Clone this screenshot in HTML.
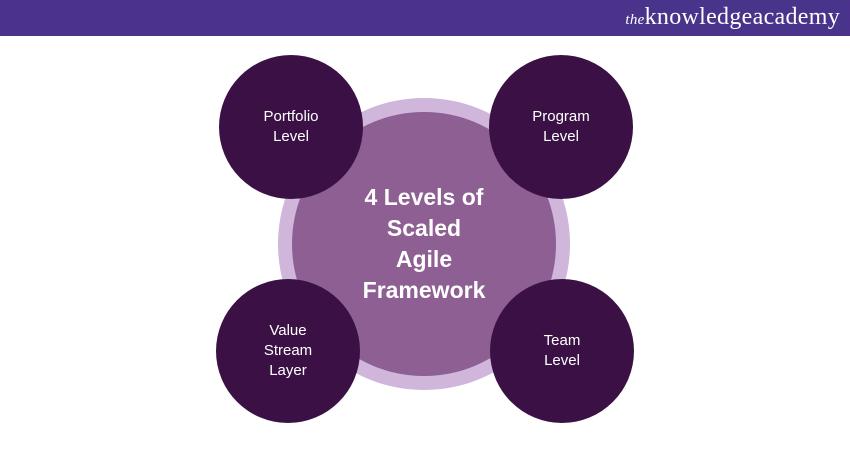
<!DOCTYPE html>
<html><head><style>
body{margin:0;width:850px;height:450px;background:#fff;overflow:hidden;font-family:"Liberation Sans",sans-serif}
.hdr{position:absolute;left:0;top:0;width:850px;height:36px;background:#4a338a}
.logo{position:absolute;right:10px;top:4px;color:#fff;font-family:"Liberation Serif",serif;font-size:24px;letter-spacing:0.3px}
.logo i{font-size:15px}
.c{position:absolute;border-radius:50%;display:flex;align-items:center;justify-content:center;text-align:center;color:#fff}
.s{width:144px;height:144px;background:#3b1145;font-size:15px;line-height:20px}
</style></head><body>
<div class="hdr"><div class="logo"><i>the</i>knowledgeacademy</div></div>
<div class="c" style="left:278px;top:98px;width:292px;height:292px;background:#cfb6da"></div>
<div class="c" style="left:292px;top:112px;width:264px;height:264px;background:#8d5f93;font-size:23px;line-height:31px;font-weight:bold">4 Levels of<br>Scaled<br>Agile<br>Framework</div>
<div class="c s" style="left:219px;top:55px">Portfolio<br>Level</div>
<div class="c s" style="left:489px;top:55px">Program<br>Level</div>
<div class="c s" style="left:216px;top:279px">Value<br>Stream<br>Layer</div>
<div class="c s" style="left:490px;top:279px">Team<br>Level</div>
</body></html>
